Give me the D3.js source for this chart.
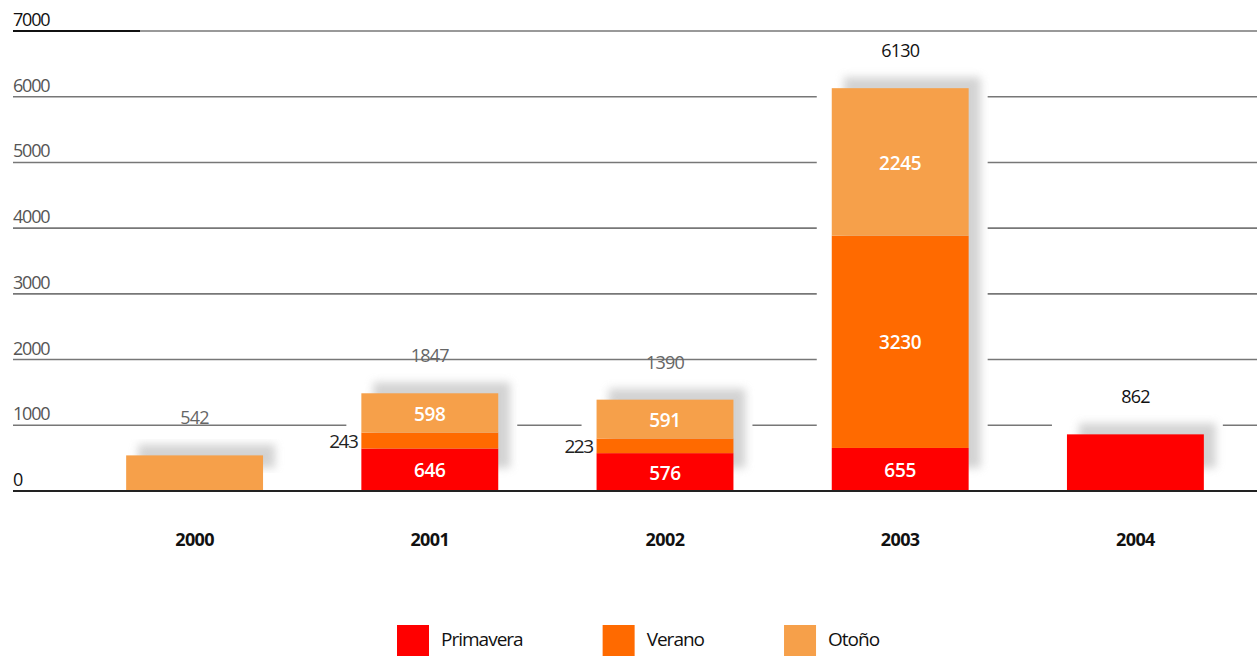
<!DOCTYPE html>
<html>
<head>
<meta charset="utf-8">
<script src="https://cdn.jsdelivr.net/npm/d3@7"></script>
<style>
  body { margin: 0; background: #fff; }
  text { font-family: "Open Sans", sans-serif; }
</style>
</head>
<body>
<div id="chart"></div>
<script>
// data
const years = ["2000", "2001", "2002", "2003", "2004"];
const primavera = [0, 646, 576, 655, 862];
const verano = [0, 243, 223, 3230, 0];
const otono = [542, 598, 591, 2245, 0];
const totalLabels = ["542", "1847", "1390", "6130", "862"];
const seriesNames = ["Primavera", "Verano", "Otoño"];
const tickValues = [0, 1000, 2000, 3000, 4000, 5000, 6000, 7000];

const colors = ["#ff0000", "#ff6a00", "#f6a04a"];
const totalColors = ["#666", "#666", "#666", "#111", "#111"];

const width = 1257, height = 656;

const svg = d3.select("#chart").append("svg")
    .attr("width", width)
    .attr("height", height);

svg.append("rect").attr("width", width).attr("height", height).attr("fill", "#fff");

const defs = svg.append("defs");
defs.append("filter").attr("id", "blur")
    .attr("x", "-20%").attr("y", "-20%").attr("width", "140%").attr("height", "140%")
    .append("feGaussianBlur").attr("stdDeviation", 4);

const x = d3.scaleBand()
    .domain(years)
    .range([77, 1253])
    .paddingInner(0.418)
    .paddingOuter(0.209);

const y = d3.scaleLinear()
    .domain([0, 7000])
    .range([491, 31]);

const table = years.map((yr, i) => ({
    year: yr,
    Primavera: primavera[i],
    Verano: verano[i],
    "Otoño": otono[i]
}));
const stacked = d3.stack().keys(seriesNames)(table);
const tops = table.map((d, i) => y(primavera[i] + verano[i] + otono[i]));

// grid lines
const grid = svg.append("g");
grid.selectAll("line")
    .data(tickValues)
    .enter()
    .append("line")
    .attr("x1", 13).attr("x2", width)
    .attr("y1", d => y(d)).attr("y2", d => y(d))
    .attr("stroke", "#777")
    .attr("stroke-width", 1.6);
grid.append("line")
    .attr("x1", 13).attr("x2", 140)
    .attr("y1", y(7000)).attr("y2", y(7000))
    .attr("stroke", "#111").attr("stroke-width", 2);

grid.selectAll(".tick-label")
    .data(tickValues)
    .enter()
    .append("text")
    .attr("class", "tick-label")
    .attr("x", 13)
    .attr("y", d => y(d) - 5)
    .attr("font-size", 18)
    .attr("letter-spacing", -1.2)
    .attr("fill", d => d === 7000 || d === 0 ? "#111" : "#555")
    .text(d => d);

// white halo behind each bar, breaks the grid
svg.append("g").selectAll("rect")
    .data(years)
    .enter()
    .append("rect")
    .attr("x", d => x(d) - 15)
    .attr("y", (d, i) => tops[i] - 22)
    .attr("width", x.bandwidth() + 34)
    .attr("height", (d, i) => y(0) - tops[i] + 36)
    .attr("fill", "#fff");

// soft shadow
svg.append("g").selectAll("rect")
    .data(years)
    .enter()
    .append("rect")
    .attr("x", d => x(d) + 12)
    .attr("y", (d, i) => tops[i] - 11)
    .attr("width", x.bandwidth())
    .attr("height", (d, i) => y(0) - tops[i] - 12)
    .attr("fill", "#c4c4c4")
    .attr("opacity", 0.75)
    .attr("filter", "url(#blur)");

// bars
svg.append("g").selectAll("g")
    .data(stacked)
    .enter()
    .append("g")
    .attr("fill", (d, i) => colors[i])
    .selectAll("rect")
    .data(d => d)
    .enter()
    .append("rect")
    .attr("x", d => x(d.data.year))
    .attr("y", d => y(d[1]))
    .attr("width", x.bandwidth())
    .attr("height", d => y(d[0]) - y(d[1]));

// baseline
svg.append("line")
    .attr("x1", 13).attr("x2", width)
    .attr("y1", y(0)).attr("y2", y(0))
    .attr("stroke", "#222")
    .attr("stroke-width", 2);

// segment labels (only for years with several seasons)
const segLabels = svg.append("g");
stacked.forEach((s, si) => {
    s.forEach((d, i) => {
        const v = d[1] - d[0];
        const nonZero = [primavera[i], verano[i], otono[i]].filter(n => n > 0).length;
        if (v <= 0 || nonZero < 2) return;
        const h = y(d[0]) - y(d[1]);
        const cy = (y(d[0]) + y(d[1])) / 2;
        const inside = h > 22;
        segLabels.append("text")
            .attr("x", inside ? x(d.data.year) + x.bandwidth() / 2 : x(d.data.year) - 4)
            .attr("y", cy + 1)
            .attr("dy", "0.35em")
            .attr("text-anchor", inside ? "middle" : "end")
            .attr("font-size", 19)
            .attr("font-weight", inside ? 600 : 400)
            .attr("letter-spacing", inside ? -0.3 : -1.5)
            .attr("fill", inside ? "#fff" : "#222")
            .text(v);
    });
});

// totals
svg.append("g").selectAll("text")
    .data(years)
    .enter()
    .append("text")
    .attr("x", d => x(d) + x.bandwidth() / 2)
    .attr("y", (d, i) => tops[i] - 31)
    .attr("text-anchor", "middle")
    .attr("font-size", 18)
    .attr("letter-spacing", -0.8)
    .attr("fill", (d, i) => totalColors[i])
    .text((d, i) => totalLabels[i]);

// year labels
svg.append("g").selectAll("text")
    .data(years)
    .enter()
    .append("text")
    .attr("x", d => x(d) + x.bandwidth() / 2)
    .attr("y", 546)
    .attr("text-anchor", "middle")
    .attr("font-size", 18)
    .attr("font-weight", 700)
    .attr("letter-spacing", -0.6)
    .attr("fill", "#111")
    .text(d => d);

// legend
const legend = svg.append("g");
let lx = 397;
seriesNames.forEach((name, i) => {
    legend.append("rect")
        .attr("x", lx).attr("y", 625)
        .attr("width", 32).attr("height", 32)
        .attr("fill", colors[i]);
    const t = legend.append("text")
        .attr("x", lx + 44)
        .attr("y", 646)
        .attr("font-size", 19)
        .attr("letter-spacing", -1)
        .attr("fill", "#111")
        .text(name);
    lx = lx + 44 + t.node().getComputedTextLength() + 80;
});
</script>
</body>
</html>
